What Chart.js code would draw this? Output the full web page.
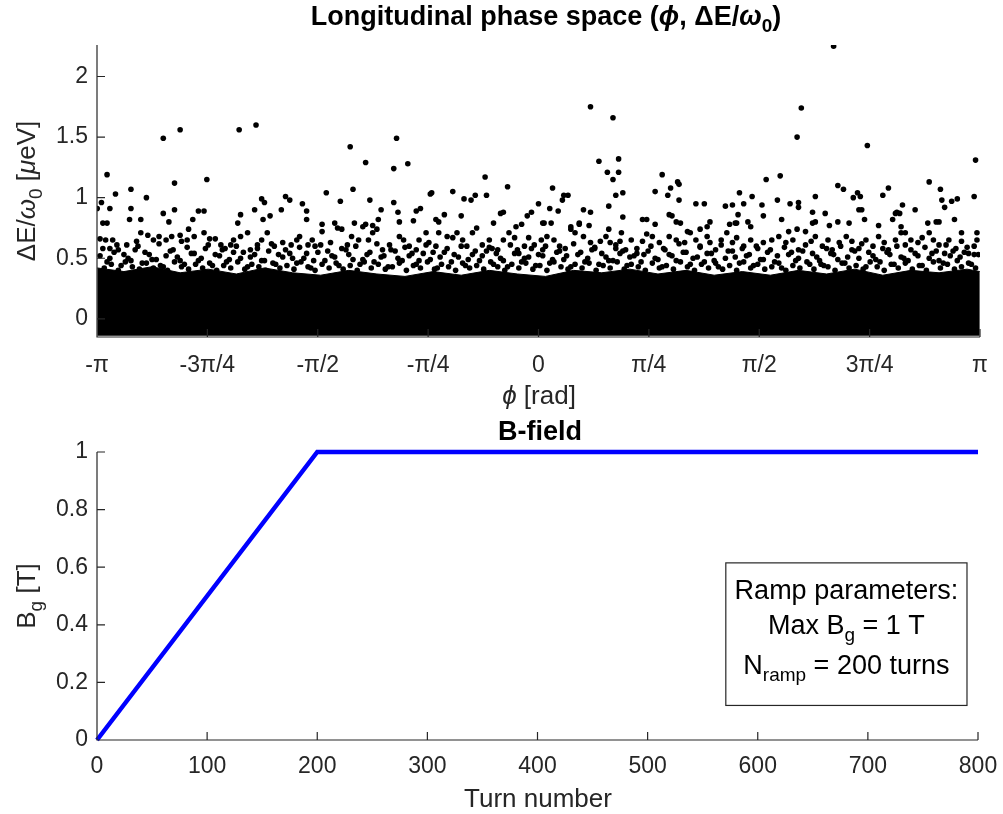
<!DOCTYPE html>
<html>
<head>
<meta charset="utf-8">
<script src="https://cdn.jsdelivr.net/npm/chart.js@4.4.0/dist/chart.umd.min.js"></script>
<style>
  body { margin: 0; background: #fff; }
  #top { position: absolute; left: 0; top: 0; width: 1003px; height: 410px; }
  #bot { position: absolute; left: 0; top: 410px; width: 1003px; height: 404px; }
</style>
</head>
<body>
<div id="top"><canvas id="phase" width="1003" height="410"></canvas></div>
<div id="bot"><canvas id="field" width="1003" height="404"></canvas></div>
<script>
// ---- top panel: longitudinal phase space ----
const phaseTickPos = [-Math.PI, -0.75 * Math.PI, -0.5 * Math.PI, -0.25 * Math.PI, 0,
                      0.25 * Math.PI, 0.5 * Math.PI, 0.75 * Math.PI, Math.PI];
const phaseTickLabels = ['-π', '-3π/4', '-π/2', '-π/4', '0', 'π/4', 'π/2', '3π/4', 'π'];
const energyTicks = [0, 0.5, 1, 1.5, 2];
const energyTickLabels = ['0', '0.5', '1', '1.5', '2'];

// upper edge of the solid black core of the bunch (the core reaches down to the axis)
const coreEdgePhi = [-3.14, -2.95, -2.75, -2.55, -2.35, -2.15, -1.95, -1.75, -1.55, -1.35, -1.15,
                     -0.95, -0.75, -0.55, -0.35, -0.15, 0.05, 0.25, 0.45, 0.65, 0.85, 1.05, 1.25,
                     1.45, 1.65, 1.85, 2.05, 2.25, 2.45, 2.65, 2.85, 3.05, 3.14];
const coreEdgeTop = [0.42, 0.39, 0.43, 0.38, 0.41, 0.37, 0.42, 0.38, 0.36, 0.40, 0.37,
                     0.35, 0.39, 0.36, 0.40, 0.37, 0.35, 0.40, 0.38, 0.41, 0.37, 0.40, 0.36,
                     0.39, 0.36, 0.40, 0.37, 0.41, 0.36, 0.40, 0.38, 0.41, 0.39];
const coreFloor = -0.14;

// ragged fringe along the top of the core [phi, dE]
const fringeParticles = [
  [-3.12,0.52],[-3.07,0.47],[-3.02,0.55],[-2.97,0.44],[-2.92,0.50],[-2.87,0.57],[-2.82,0.46],[-2.77,0.53],
  [-2.72,0.49],[-2.67,0.43],[-2.62,0.56],[-2.57,0.51],[-2.52,0.45],[-2.47,0.54],[-2.42,0.48],[-2.37,0.58],
  [-2.32,0.44],[-2.27,0.52],[-2.22,0.47],[-2.17,0.55],[-2.12,0.50],[-2.07,0.43],[-2.02,0.53],[-1.97,0.48],
  [-1.92,0.56],[-1.87,0.45],[-1.82,0.51],[-1.77,0.54],[-1.72,0.46],[-1.67,0.50],[-1.62,0.42],[-1.57,0.55],
  [-1.52,0.48],[-1.47,0.52],[-1.42,0.44],[-1.37,0.57],[-1.32,0.49],[-1.27,0.45],[-1.22,0.53],[-1.17,0.47],
  [-1.12,0.51],[-1.07,0.43],[-1.02,0.56],[-0.97,0.48],[-0.92,0.52],[-0.87,0.45],[-0.82,0.54],[-0.77,0.49],
  [-0.72,0.42],[-0.67,0.55],[-0.62,0.47],[-0.57,0.51],[-0.52,0.44],[-0.47,0.53],[-0.42,0.48],[-0.37,0.56],
  [-0.32,0.45],[-0.27,0.50],[-0.22,0.43],[-0.17,0.54],[-0.12,0.47],[-0.07,0.51],[-0.02,0.44],[0.03,0.52],
  [0.08,0.46],[0.13,0.55],[0.18,0.49],[0.23,0.43],[0.28,0.53],[0.33,0.47],[0.38,0.57],[0.43,0.45],
  [0.48,0.51],[0.53,0.48],[0.58,0.54],[0.63,0.44],[0.68,0.52],[0.73,0.47],[0.78,0.56],[0.83,0.50],
  [0.88,0.43],[0.93,0.53],[0.98,0.48],[1.03,0.55],[1.08,0.45],[1.13,0.51],[1.18,0.47],[1.23,0.54],
  [1.28,0.43],[1.33,0.50],[1.38,0.56],[1.43,0.46],[1.48,0.52],[1.53,0.44],[1.58,0.49],[1.63,0.55],
  [1.68,0.47],[1.73,0.42],[1.78,0.53],[1.83,0.48],[1.88,0.56],[1.93,0.45],[1.98,0.51],[2.03,0.44],
  [2.08,0.54],[2.13,0.49],[2.18,0.46],[2.23,0.57],[2.28,0.50],[2.33,0.43],[2.38,0.52],[2.43,0.47],
  [2.48,0.55],[2.53,0.45],[2.58,0.51],[2.63,0.48],[2.68,0.54],[2.73,0.44],[2.78,0.50],[2.83,0.56],
  [2.88,0.46],[2.93,0.52],[2.98,0.48],[3.03,0.55],[3.08,0.45],[3.13,0.53],
  [-3.09,0.42],[-3.04,0.45],[-2.99,0.40],[-2.94,0.47],[-2.89,0.43],[-2.84,0.41],[-2.79,0.46],[-2.74,0.42],
  [-2.69,0.44],[-2.64,0.40],[-2.59,0.47],[-2.54,0.43],[-2.49,0.41],[-2.44,0.45],[-2.39,0.42],[-2.34,0.46],
  [-2.29,0.40],[-2.24,0.44],[-2.19,0.42],[-2.14,0.47],[-2.09,0.41],[-2.04,0.45],[-1.99,0.43],[-1.94,0.40],
  [-1.89,0.46],[-1.84,0.42],[-1.79,0.44],[-1.74,0.41],[-1.69,0.47],[-1.64,0.43],[-1.59,0.40],[-1.54,0.45],
  [-1.49,0.42],[-1.44,0.46],[-1.39,0.41],[-1.34,0.44],[-1.29,0.40],[-1.24,0.47],[-1.19,0.42],[-1.14,0.45],
  [-1.09,0.41],[-1.04,0.43],[-0.99,0.46],[-0.94,0.40],[-0.89,0.44],[-0.84,0.42],[-0.79,0.47],[-0.74,0.41],
  [-0.69,0.45],[-0.64,0.43],[-0.59,0.40],[-0.54,0.46],[-0.49,0.42],[-0.44,0.44],[-0.39,0.41],[-0.34,0.47],
  [-0.29,0.43],[-0.24,0.40],[-0.19,0.45],[-0.14,0.42],[-0.09,0.46],[-0.04,0.41],[0.01,0.44],[0.06,0.40],
  [0.11,0.47],[0.16,0.43],[0.21,0.41],[0.26,0.45],[0.31,0.42],[0.36,0.46],[0.41,0.40],[0.46,0.44],
  [0.51,0.42],[0.56,0.47],[0.61,0.41],[0.66,0.45],[0.71,0.43],[0.76,0.40],[0.81,0.46],[0.86,0.42],
  [0.91,0.44],[0.96,0.41],[1.01,0.47],[1.06,0.43],[1.11,0.40],[1.16,0.45],[1.21,0.42],[1.26,0.46],
  [1.31,0.41],[1.36,0.44],[1.41,0.40],[1.46,0.47],[1.51,0.42],[1.56,0.45],[1.61,0.41],[1.66,0.43],
  [1.71,0.46],[1.76,0.40],[1.81,0.44],[1.86,0.42],[1.91,0.47],[1.96,0.41],[2.01,0.45],[2.06,0.43],
  [2.11,0.40],[2.16,0.46],[2.21,0.42],[2.26,0.44],[2.31,0.41],[2.36,0.47],[2.41,0.43],[2.46,0.40],
  [2.51,0.45],[2.56,0.42],[2.61,0.46],[2.66,0.41],[2.71,0.44],[2.76,0.40],[2.81,0.47],[2.86,0.42],
  [2.91,0.45],[2.96,0.41],[3.01,0.43],[3.06,0.46],[3.11,0.42],
  [-3.10,0.58],[-3.05,0.50],[-3.00,0.61],[-2.95,0.53],[-2.90,0.48],[-2.85,0.60],[-2.80,0.55],[-2.75,0.49],
  [-2.70,0.62],[-2.65,0.52],[-2.60,0.57],[-2.55,0.48],[-2.50,0.59],[-2.45,0.54],[-2.40,0.50],[-2.35,0.61],
  [-2.30,0.53],[-2.25,0.57],[-2.20,0.49],[-2.15,0.60],[-2.10,0.55],[-2.05,0.51],[-2.00,0.58],[-1.95,0.48],
  [-1.90,0.62],[-1.85,0.53],[-1.80,0.57],[-1.75,0.50],[-1.70,0.59],[-1.65,0.54],[-1.60,0.48],[-1.55,0.61],
  [-1.50,0.56],[-1.45,0.51],[-1.40,0.58],[-1.35,0.53],[-1.30,0.60],[-1.25,0.49],[-1.20,0.55],[-1.15,0.62],
  [-1.10,0.52],[-1.05,0.57],[-1.00,0.50],[-0.95,0.59],[-0.90,0.54],[-0.85,0.48],[-0.80,0.61],[-0.75,0.55],
  [-0.70,0.51],[-0.65,0.58],[-0.60,0.53],[-0.55,0.60],[-0.50,0.49],[-0.45,0.56],[-0.40,0.52],[-0.35,0.59],
  [-0.30,0.54],[-0.25,0.48],[-0.20,0.61],[-0.15,0.57],[-0.10,0.50],[-0.05,0.58],[0.00,0.53],[0.05,0.60],
  [0.10,0.49],[0.15,0.56],[0.20,0.52],[0.25,0.62],[0.30,0.55],[0.35,0.50],[0.40,0.59],[0.45,0.54],
  [0.50,0.48],[0.55,0.61],[0.60,0.56],[0.65,0.51],[0.70,0.58],[0.75,0.53],[0.80,0.60],[0.85,0.49],
  [0.90,0.57],[0.95,0.52],[1.00,0.62],[1.05,0.55],[1.10,0.50],[1.15,0.59],[1.20,0.54],[1.25,0.48],
  [1.30,0.61],[1.35,0.56],[1.40,0.51],[1.45,0.58],[1.50,0.53],[1.55,0.60],[1.60,0.49],[1.65,0.57],
  [1.70,0.52],[1.75,0.59],[1.80,0.55],[1.85,0.50],[1.90,0.61],[1.95,0.54],[2.00,0.48],[2.05,0.58],
  [2.10,0.53],[2.15,0.60],[2.20,0.51],[2.25,0.56],[2.30,0.62],[2.35,0.55],[2.40,0.49],[2.45,0.58],
  [2.50,0.53],[2.55,0.60],[2.60,0.50],[2.65,0.57],[2.70,0.52],[2.75,0.59],[2.80,0.54],[2.85,0.48],
  [2.90,0.61],[2.95,0.56],[3.00,0.51],[3.05,0.59],[3.10,0.53]
];

// particles in the loose halo above the core [phi, dE]
const haloParticles = [
  [-3.12,0.66],[-3.08,0.65],[-3.03,0.65],[-3.05,0.58],[-2.99,0.57],[-2.93,0.61],[-2.86,0.64],[-2.83,0.71],
  [-2.78,0.69],[-2.74,0.65],[-2.70,0.68],[-2.65,0.65],[-2.61,0.68],[-2.55,0.69],[-2.54,0.64],[-2.49,0.74],
  [-2.50,0.65],[-2.45,0.68],[-2.38,0.71],[-2.34,0.66],[-2.30,0.66],[-2.26,0.61],[-2.23,0.58],[-2.19,0.61],
  [-2.17,0.65],[-2.12,0.68],[-2.07,0.71],[-2.05,0.57],[-2.00,0.61],[-1.97,0.65],[-1.93,0.71],[-1.88,0.60],
  [-1.82,0.63],[-1.76,0.61],[-1.72,0.65],[-1.70,0.68],[-1.64,0.61],[-1.61,0.65],[-1.59,0.60],
  [-1.54,0.72],[-1.48,0.63],[-1.43,0.75],[-1.40,0.74],[-1.36,0.61],[-1.33,0.68],[-1.28,0.65],[-1.25,0.76],
  [-1.21,0.65],[-1.18,0.71],[-1.15,0.74],[-1.11,0.57],[-1.06,0.61],[-0.99,0.68],[-0.96,0.65],[-0.92,0.60],
  [-0.87,0.57],[-0.85,0.65],[-0.80,0.71],[-0.78,0.63],[-0.73,0.60],[-0.71,0.71],[-0.65,0.68],[-0.61,0.67],
  [-0.58,0.71],[-0.54,0.65],[-0.51,0.60],[-0.47,0.71],[-0.44,0.75],[-0.40,0.61],[-0.35,0.65],[-0.33,0.58],
  [-0.29,0.57],[-0.25,0.65],[-0.21,0.71],[-0.17,0.67],[-0.14,0.54],[-0.10,0.60],[-0.07,0.67],[-0.03,0.61],
  [0.02,0.65],[0.03,0.57],
  [0.06,0.68],[0.11,0.65],[0.15,0.60],[0.19,0.58],[0.23,0.74],[0.26,0.71],[0.29,0.78],[0.32,0.68],
  [0.37,0.63],[0.40,0.58],[0.44,0.64],[0.48,0.68],[0.51,0.63],[0.55,0.58],[0.58,0.64],[0.62,0.57],
  [0.66,0.65],[0.70,0.54],[0.74,0.64],[0.77,0.70],[0.81,0.68],[0.86,0.63],[0.89,0.58],[0.93,0.68],
  [0.98,0.65],[1.04,0.63],[1.08,0.71],[1.12,0.65],[1.15,0.60],[1.20,0.68],[1.22,0.63],[1.26,0.57],
  [1.30,0.65],[1.34,0.71],[1.38,0.63],[1.41,0.67],[1.46,0.60],[1.51,0.65],[1.56,0.58],[1.60,0.63],
  [1.66,0.65],[1.71,0.68],[1.76,0.63],[1.81,0.65],[1.85,0.57],[1.90,0.72],[1.94,0.64],[1.97,0.68],
  [2.02,0.60],[2.06,0.65],[2.09,0.57],[2.14,0.63],[2.19,0.68],[2.23,0.64],[2.28,0.58],[2.33,0.65],
  [2.38,0.60],[2.42,0.68],[2.46,0.63],[2.49,0.57],[2.54,0.65],[2.58,0.71],[2.61,0.61],[2.65,0.65],
  [2.70,0.63],[2.73,0.67],[2.78,0.71],[2.81,0.65],[2.85,0.61],[2.89,0.54],[2.92,0.65],[2.97,0.58],
  [3.01,0.64],[3.06,0.54],[3.10,0.60],[3.12,0.65]
];

// isolated high-energy particles [phi, dE]
const outlierParticles = [
  [-3.07,1.19],[-3.11,0.96],[-3.14,0.91],[-3.01,1.03],[-3.05,0.91],[-3.10,0.79],[-3.07,0.79],[-2.90,1.07],
  [-2.90,0.91],[-2.91,0.82],[-2.79,1.00],[-2.83,0.82],[-2.67,1.49],[-2.55,1.56],[-2.59,1.12],[-2.67,0.87],
  [-2.59,0.90],[-2.63,0.80],[-2.36,1.15],[-2.42,0.89],[-2.38,0.89],[-2.46,0.82],[-2.13,1.56],[-2.01,1.60],
  [-1.97,0.99],[-1.95,0.96],[-2.12,0.86],[-2.02,0.90],[-2.14,0.79],[-1.96,0.82],[-1.91,0.85],[-1.80,1.01],
  [-1.77,0.98],[-1.83,0.90],[-1.68,0.95],[-1.65,0.89],[-1.65,0.82],
  [-1.34,1.42],[-1.01,1.49],[-1.23,1.29],[-1.03,1.24],[-0.93,1.28],[-1.51,1.04],[-1.32,1.07],[-1.41,0.97],
  [-1.20,0.98],[-1.03,0.96],[-0.38,1.17],[-0.22,1.09],[-0.77,1.03],[-0.76,1.04],[-0.61,1.05],[-0.53,0.99],
  [-0.48,0.98],[-0.45,1.02],[-0.37,1.02],[0.00,0.95],[-1.12,0.90],[-1.00,0.88],[-0.87,0.89],[-0.84,0.91],
  [-0.67,0.86],[-0.55,0.85],[-0.27,0.87],[-0.25,0.88],[-0.05,0.88],[-0.08,0.85],[-0.89,0.81],[-0.99,0.80],
  [-0.73,0.82],[-0.71,0.80],[-1.54,0.78],[-1.45,0.79],[-1.31,0.79],[-1.23,0.78],[-1.18,0.77],[-1.14,0.82],
  [-0.32,0.79],[0.03,0.79],[-0.16,0.76],[-0.12,0.78],
  [0.37,1.75],[0.53,1.66],[0.43,1.30],[0.57,1.32],[0.49,1.21],[0.57,1.21],[0.53,1.15],[0.55,1.02],
  [0.60,1.04],[0.10,1.08],[0.18,1.02],[0.21,1.02],[0.17,0.98],[0.08,0.91],[0.14,0.89],[0.32,0.90],
  [0.37,0.88],[0.50,0.93],[0.60,0.84],[0.36,0.77],[0.88,1.19],[0.83,1.05],[0.94,1.08],[0.92,1.02],
  [0.99,1.13],[1.00,1.11],[1.00,0.98],[0.93,0.86],[0.95,0.85],[1.12,0.95],[1.18,0.95],[1.33,0.93],
  [1.38,0.94],[1.43,1.04],[1.52,1.01],[1.46,0.95],[1.59,0.94],[1.62,1.15],[1.42,0.86],[1.40,0.79],
  [1.51,0.76],[1.49,0.80],[1.60,0.85],[0.74,0.82],[0.77,0.82],[0.83,0.78],[0.98,0.80],[1.01,0.79],
  [0.04,0.79],[0.09,0.79],[0.23,0.76],[0.29,0.79],[0.50,0.74],[0.59,0.71],[1.22,0.80],[1.20,0.76],
  [1.36,0.78],[1.41,0.79],[1.06,0.72],[1.15,0.74],
  [2.10,2.25],[1.87,1.74],[1.84,1.50],[2.34,1.43],[3.11,1.31],[3.10,1.01],[3.12,0.71],[1.72,1.18],
  [1.70,0.98],[1.79,0.95],[1.85,0.96],[1.85,0.92],[1.97,1.01],[1.95,0.88],[2.04,0.87],[2.13,1.10],
  [2.17,1.07],[2.24,1.00],[2.27,1.04],[2.29,1.01],[2.28,0.90],[2.30,0.90],[2.32,0.82],[2.45,1.02],
  [2.49,1.08],[2.59,0.94],[2.55,0.88],[2.57,0.87],[2.68,0.90],[2.78,1.13],[2.86,1.07],[2.87,0.98],
  [2.94,0.97],[2.98,0.99],[2.89,0.92],[2.96,0.82],[2.77,0.79],[2.83,0.80],[2.85,0.80],[1.95,0.79],
  [1.97,0.80],[2.07,0.77],[2.13,0.80],[2.21,0.79],[2.42,0.77],[2.52,0.82],[2.54,0.87],[2.58,0.76],
  [2.61,0.71],[1.73,0.82],[3.01,0.71],[1.78,0.72],[1.84,0.74]
];

// ---- bottom panel: B-field ramp ----
const turns = [0, 200, 800];
const bField = [0, 1, 1];
const turnTicks = [0, 100, 200, 300, 400, 500, 600, 700, 800];
const bTicks = [0, 0.2, 0.4, 0.6, 0.8, 1];
const rampBox = { x0: 571, x1: 790, y0: 0.615, y1: 0.12 };

const FONT = '"Liberation Sans", Arial, sans-serif';
const AXIS = '#262626';
const TICK_SIZE = 23;
const LABEL_SIZE = 26;
const TITLE_SIZE = 27;
const DOT = 2.8;

function drawRich(ctx, parts, x, y, size, opts) {
  opts = opts || {};
  ctx.save();
  ctx.translate(x, y);
  if (opts.rotate) ctx.rotate(-Math.PI / 2);
  const fontOf = f => (f.includes('i') ? 'italic ' : '') + (opts.bold ? 'bold ' : '') +
    (f.includes('s') ? Math.round(size * 0.72) : size) + 'px ' + FONT;
  let total = 0;
  parts.forEach(p => { ctx.font = fontOf(p[1] || ''); total += ctx.measureText(p[0]).width; });
  let cx = -total / 2;
  ctx.fillStyle = opts.color || AXIS;
  ctx.textBaseline = 'middle';
  ctx.textAlign = 'left';
  parts.forEach(p => {
    const f = p[1] || '';
    ctx.font = fontOf(f);
    ctx.fillText(p[0], cx, f.includes('s') ? size * 0.34 : 0);
    cx += ctx.measureText(p[0]).width;
  });
  ctx.restore();
}

// axis lines + inward tick marks, drawn on top of the data like MATLAB
const axesOnTop = {
  id: 'axesOnTop',
  afterDatasetsDraw(chart) {
    const { ctx, chartArea: a, scales: { x, y } } = chart;
    ctx.save();
    ctx.strokeStyle = AXIS;
    ctx.lineWidth = 1.2;
    ctx.beginPath();
    ctx.moveTo(a.left, a.top);
    ctx.lineTo(a.left, a.bottom);
    ctx.lineTo(a.right, a.bottom);
    x.ticks.forEach(t => {
      const px = x.getPixelForValue(t.value);
      ctx.moveTo(px, a.bottom);
      ctx.lineTo(px, a.bottom - 8);
    });
    y.ticks.forEach(t => {
      const py = y.getPixelForValue(t.value);
      ctx.moveTo(a.left, py);
      ctx.lineTo(a.left + 8, py);
    });
    ctx.stroke();
    ctx.restore();
  }
};

function axisTick(fontSize) {
  return { font: { family: FONT, size: fontSize }, color: AXIS, maxRotation: 0, autoSkip: false };
}

// fixed axis boxes so the plot areas line up with the reference
const fitX = h => s => { s.height = h; s.paddingLeft = 0; s.paddingRight = 0; };
const fitY = w => s => { s.width = w; s.paddingTop = 0; s.paddingBottom = 0; };

const toPoints = arr => arr.map(p => ({ x: p[0], y: p[1] }));
const dots = arr => ({ data: toPoints(arr), pointRadius: DOT, backgroundColor: '#000', borderWidth: 0 });

new Chart(document.getElementById('phase'), {
  type: 'scatter',
  data: {
    datasets: [
      {
        type: 'line',
        data: coreEdgePhi.map((p, i) => ({ x: p, y: coreEdgeTop[i] })),
        borderColor: '#000',
        borderWidth: 1,
        backgroundColor: '#000',
        pointRadius: 0,
        tension: 0,
        fill: { value: coreFloor }
      },
      dots(fringeParticles),
      dots(haloParticles),
      dots(outlierParticles)
    ]
  },
  options: {
    responsive: false,
    animation: false,
    events: [],
    layout: { padding: { left: 0, right: 23, top: 45, bottom: 0 } },
    plugins: { legend: { display: false }, tooltip: { enabled: false } },
    scales: {
      x: {
        type: 'linear', min: -Math.PI, max: Math.PI,
        afterBuildTicks: s => { s.ticks = phaseTickPos.map(v => ({ value: v })); },
        afterFit: fitX(73),
        ticks: Object.assign(axisTick(TICK_SIZE), { padding: 15, callback: (v, i) => phaseTickLabels[i] }),
        grid: { drawOnChartArea: false, drawTicks: false },
        border: { display: false }
      },
      y: {
        type: 'linear', min: -0.15, max: 2.26,
        afterBuildTicks: s => { s.ticks = energyTicks.map(v => ({ value: v })); },
        afterFit: fitY(97),
        ticks: Object.assign(axisTick(TICK_SIZE), { padding: 9, callback: (v, i) => energyTickLabels[i] }),
        grid: { drawOnChartArea: false, drawTicks: false },
        border: { display: false }
      }
    }
  },
  plugins: [axesOnTop, {
    id: 'phaseText',
    afterDraw(chart) {
      const ctx = chart.ctx;
      drawRich(ctx, [['Longitudinal phase space ('], ['ϕ', 'i'], [', ΔE/'], ['ω', 'i'], ['0', 's'], [')']],
        546, 18, TITLE_SIZE, { bold: true, color: '#000' });
      drawRich(ctx, [['ϕ', 'i'], [' [rad]']], 539, 397, LABEL_SIZE);
      drawRich(ctx, [['ΔE/'], ['ω', 'i'], ['0', 's'], [' ['], ['μ', 'i'], ['eV]']],
        28, 191, LABEL_SIZE, { rotate: true });
    }
  }]
});

new Chart(document.getElementById('field'), {
  type: 'line',
  data: {
    datasets: [{
      data: turns.map((t, i) => ({ x: t, y: bField[i] })),
      borderColor: '#0000ff',
      borderWidth: 4.5,
      pointRadius: 0,
      tension: 0,
      fill: false,
      clip: false
    }]
  },
  options: {
    responsive: false,
    animation: false,
    events: [],
    layout: { padding: { left: 0, right: 25, top: 42, bottom: 0 } },
    plugins: { legend: { display: false }, tooltip: { enabled: false } },
    scales: {
      x: {
        type: 'linear', min: 0, max: 800,
        afterBuildTicks: s => { s.ticks = turnTicks.map(v => ({ value: v })); },
        afterFit: fitX(74),
        ticks: Object.assign(axisTick(TICK_SIZE), { padding: 13, callback: v => String(v) }),
        grid: { drawOnChartArea: false, drawTicks: false },
        border: { display: false }
      },
      y: {
        type: 'linear', min: 0, max: 1,
        afterBuildTicks: s => { s.ticks = bTicks.map(v => ({ value: v })); },
        afterFit: fitY(97),
        ticks: Object.assign(axisTick(TICK_SIZE), { padding: 9, callback: v => String(+v.toFixed(1)) }),
        grid: { drawOnChartArea: false, drawTicks: false },
        border: { display: false }
      }
    }
  },
  plugins: [axesOnTop, {
    id: 'fieldText',
    afterDraw(chart) {
      const { ctx, scales: { x, y } } = chart;
      drawRich(ctx, [['B-field']], 540, 23, TITLE_SIZE, { bold: true, color: '#000' });
      drawRich(ctx, [['Turn number']], 538, 390, LABEL_SIZE);
      drawRich(ctx, [['B'], ['g', 's'], [' [T]']], 28, 186, LABEL_SIZE, { rotate: true });

      const left = x.getPixelForValue(rampBox.x0), right = x.getPixelForValue(rampBox.x1);
      const top = y.getPixelForValue(rampBox.y0), bottom = y.getPixelForValue(rampBox.y1);
      ctx.save();
      ctx.fillStyle = '#fff';
      ctx.fillRect(left, top, right - left, bottom - top);
      ctx.strokeStyle = AXIS;
      ctx.lineWidth = 1.2;
      ctx.strokeRect(left, top, right - left, bottom - top);
      ctx.restore();
      const cx = (left + right) / 2;
      drawRich(ctx, [['Ramp parameters:']], cx, top + 29, 27, { color: '#000' });
      drawRich(ctx, [['Max B'], ['g', 's'], [' = 1 T']], cx, top + 64, 27, { color: '#000' });
      drawRich(ctx, [['N'], ['ramp', 's'], [' = 200 turns']], cx, top + 104, 27, { color: '#000' });
    }
  }]
});
</script>
</body>
</html>
